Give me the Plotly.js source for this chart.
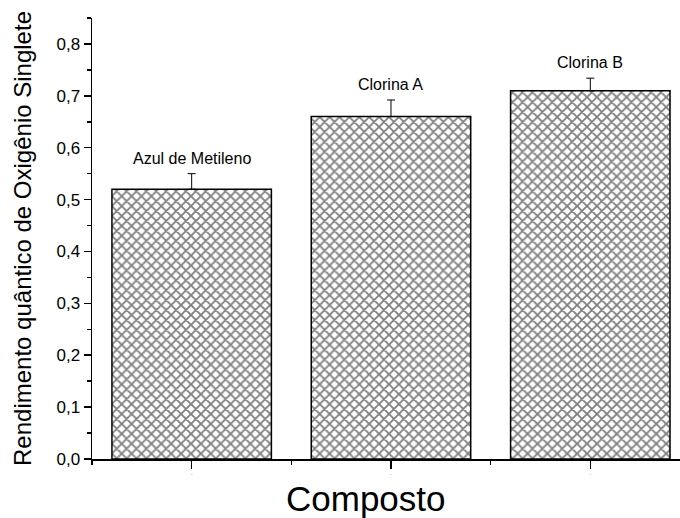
<!DOCTYPE html>
<html>
<head>
<meta charset="utf-8">
<script src="https://cdn.plot.ly/plotly-3.0.1.min.js"></script>
<style>html,body{margin:0;padding:0;background:#fff;}#chart{width:680px;height:518px;}</style>
</head>
<body>
<div id="chart"></div>
<script>
const categories = ["Azul de Metileno", "Clorina A", "Clorina B"];
const values = [0.52, 0.66, 0.71];
const errors = [0.03, 0.032, 0.024];
const tickLabels = ["-", "-", "-"];
const yTickVals = [0, 0.1, 0.2, 0.3, 0.4, 0.5, 0.6, 0.7, 0.8];

const xs = categories.map((_, i) => i);

const bars = {
  type: "bar",
  x: xs,
  y: values,
  width: 0.8,
  marker: {
    color: "#ffffff",
    line: {color: "#000000", width: 1.5},
    pattern: {shape: "x", size: 7, solidity: 0.45, fgcolor: "#000000", bgcolor: "#ffffff", fillmode: "overlay"}
  },
  error_y: {type: "data", symmetric: false, array: errors, arrayminus: errors.map(() => 0), color: "#000000", thickness: 1, width: 4},
  hoverinfo: "skip",
  showlegend: false
};

const annotations = categories.map((c, i) => ({
  x: xs[i], y: values[i] + errors[i], xref: "x", yref: "y",
  text: c, showarrow: false, yanchor: "bottom", yshift: 5,
  font: {family: "Liberation Sans, Arial, sans-serif", size: 16, color: "#000"}
}));

annotations.push({
  x: 0.466, y: -0.09, xref: "paper", yref: "paper",
  text: "Composto", showarrow: false, xanchor: "center", yanchor: "middle",
  font: {family: "Liberation Sans, Arial, sans-serif", size: 35, color: "#000"}
});

const layout = {
  width: 680, height: 518,
  margin: {l: 92, r: 0, t: 18, b: 59},
  paper_bgcolor: "#ffffff", plot_bgcolor: "#ffffff",
  separators: ", ",
  font: {family: "Liberation Sans, Arial, sans-serif", color: "#000"},
  showlegend: false,
  xaxis: {
    type: "linear",
    range: [-0.5, 2.45],
    tickvals: xs, ticktext: tickLabels,
    ticks: "outside", ticklen: 8, tickwidth: 1.5, tickcolor: "#000",
    tickfont: {size: 6, color: "#999"},
    minor: {dtick: 0.5, tick0: 0, ticks: "outside", ticklen: 4, tickwidth: 1.5, tickcolor: "#000"},
    showline: true, linecolor: "#000", linewidth: 1.5,
    showgrid: false, zeroline: false
  },
  yaxis: {
    range: [0, 0.85],
    tickvals: yTickVals, tickformat: ".1f",
    ticks: "outside", ticklen: 7, tickwidth: 1.5, tickcolor: "#000",
    tickfont: {size: 17, color: "#000"},
    minor: {dtick: 0.05, tick0: 0, ticks: "outside", ticklen: 4, tickwidth: 1.5, tickcolor: "#000"},
    showline: true, linecolor: "#000", linewidth: 1.5,
    showgrid: false, zeroline: false,
    title: {text: "Rendimento quântico de Oxigênio Singlete", font: {size: 24, color: "#000"}, standoff: 18}
  },
  annotations: annotations
};

Plotly.newPlot("chart", [bars], layout, {displayModeBar: false, staticPlot: true});
</script>
</body>
</html>
